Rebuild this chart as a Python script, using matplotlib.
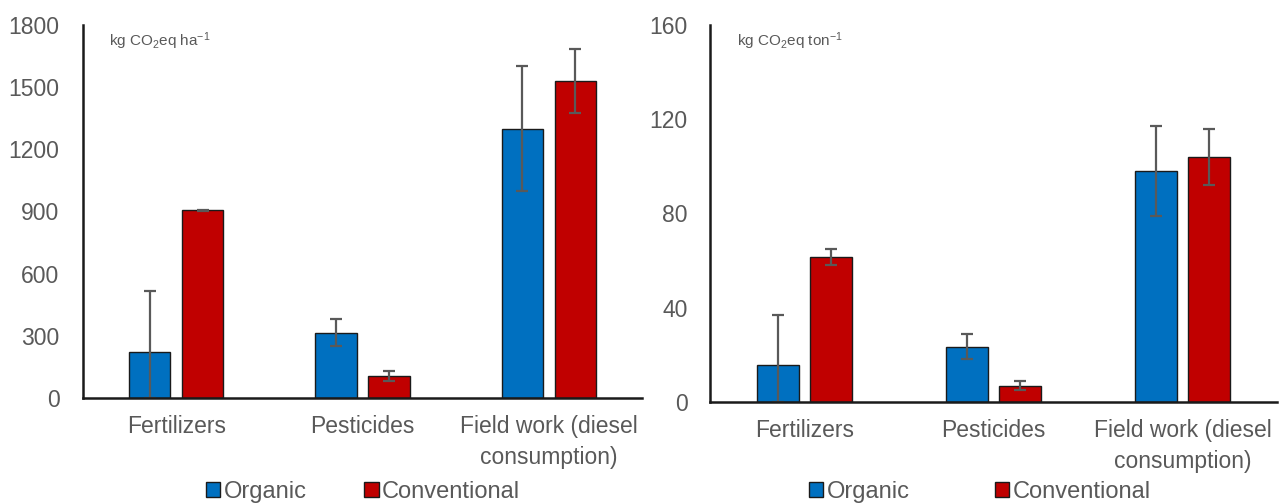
import numpy as np
import matplotlib
matplotlib.use('agg')
import matplotlib.pyplot as plt
from matplotlib.patches import Patch
from matplotlib.transforms import Bbox, TransformedBbox

plt.rcParams['font.family'] = ['Liberation Sans', 'DejaVu Sans']
plt.rcParams['mathtext.default'] = 'regular'

categories = ['Fertilizers', 'Pesticides', 'Field work (diesel\nconsumption)']

# per hectare
ha_organic = [220, 315, 1300]
ha_organic_err_lo = [220, 65, 302]
ha_organic_err_hi = [295, 65, 302]
ha_conv = [905, 107, 1528]
ha_conv_err = [3, 25, 155]

# per ton
ton_organic = [15.5, 23.5, 98]
ton_organic_err_lo = [15.5, 5.3, 19]
ton_organic_err_hi = [21.5, 5.3, 19]
ton_conv = [61.5, 7, 104]
ton_conv_err = [3.5, 1.8, 12]

blue = '#0070C0'
red = '#C00000'
grey = '#595959'

fig = plt.figure(figsize=(12.79, 5.04), dpi=100)
W, H = 1279, 504


def panel(rect, org, org_lo, org_hi, conv, conv_lo, conv_hi, ymax, step, unit, pad, clip=None):
    ax = fig.add_axes(rect)
    x = np.arange(len(categories))
    w = 0.223
    off = 0.142
    ekw = dict(ecolor=grey, elinewidth=1.6, capsize=4.5, capthick=1.6)
    ax.bar(x - off, org, w, color=blue, edgecolor='#1a1a1a', linewidth=1.0,
           yerr=[org_lo, org_hi], error_kw=ekw, zorder=2)
    ax.bar(x + off, conv, w, color=red, edgecolor='#1a1a1a', linewidth=1.0,
           yerr=[conv_lo, conv_hi], error_kw=ekw, zorder=2)
    ax.set_xlim(-0.5, 2.5)
    ax.set_ylim(0, ymax)
    ax.set_yticks(np.arange(0, ymax + 1, step))
    ax.set_xticks(x)
    ax.set_xticklabels(categories, linespacing=1.45)
    for s in ['top', 'right']:
        ax.spines[s].set_visible(False)
    ax.spines['left'].set_linewidth(1.8)
    ax.spines['bottom'].set_linewidth(1.8)
    ax.spines['left'].set_color('#1a1a1a')
    ax.spines['bottom'].set_color('#1a1a1a')
    ax.tick_params(axis='y', length=0, pad=pad, labelsize=16.5, labelcolor=grey)
    ax.tick_params(axis='x', length=0, pad=12, labelsize=16.5, labelcolor=grey)
    ax.text(0.047, 0.985, unit, transform=ax.transAxes, fontsize=11,
            color=grey, va='top', ha='left')
    if clip is not None:
        for lab in ax.get_xticklabels():
            lab.set_clip_box(TransformedBbox(Bbox(clip), fig.transFigure))
            lab.set_clip_on(True)
    return ax


ax1 = panel([83 / W, 106 / H, 559 / W, 373 / H], ha_organic, ha_organic_err_lo, ha_organic_err_hi,
            ha_conv, ha_conv_err, ha_conv_err, 1800, 300, r'kg CO$_2$eq ha$^{-1}$', 17,
            clip=[[0, 0], [641 / W, 1]])
ax2 = panel([710 / W, 102 / H, 567 / W, 377 / H], ton_organic, ton_organic_err_lo, ton_organic_err_hi,
            ton_conv, ton_conv_err, ton_conv_err, 160, 40, r'kg CO$_2$eq ton$^{-1}$', 16)

handles = [Patch(facecolor=blue, edgecolor='#1a1a1a', linewidth=1.0),
           Patch(facecolor=red, edgecolor='#1a1a1a', linewidth=1.0)]
for cx, gap in [(363 / W, 2.45), (980 / W, 3.6)]:
    fig.legend(handles, ['Organic', 'Conventional'], loc='center', bbox_to_anchor=(cx, 12 / H),
               ncol=2, frameon=False, fontsize=17, labelcolor=grey, handlelength=0.6,
               handleheight=0.6, handletextpad=0.15, columnspacing=gap)

fig.savefig('out.png', dpi=100)
